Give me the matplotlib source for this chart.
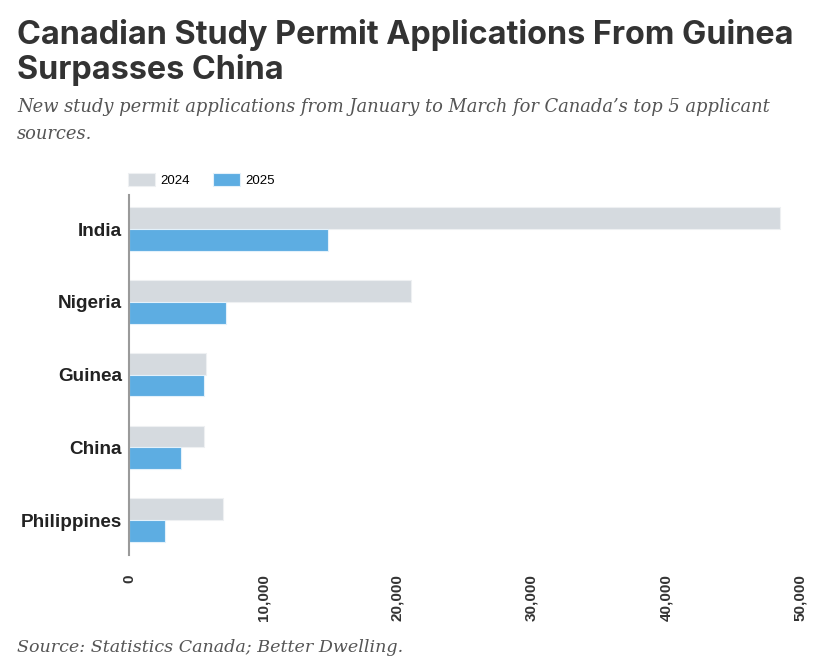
import matplotlib.pyplot as plt
import numpy as np

countries = ['India', 'Nigeria', 'Guinea', 'China', 'Philippines']
apps_2024 = [48500, 21050, 5750, 5600, 7000]
apps_2025 = [14850, 7200, 5600, 3850, 2700]
xticks = [0, 10000, 20000, 30000, 40000, 50000]

col_2024 = '#d5dadf'
col_2025 = '#5dade2'

fig = plt.figure(figsize=(8.27, 6.67), dpi=100)
ax = fig.add_axes([129 / 827, 1 - 555 / 667, (800 - 129) / 827, 360 / 667])

y = np.arange(len(countries))
h = 0.3
ax.barh(y - h / 2, apps_2024, height=h, color=col_2024, edgecolor='#eef0f2', linewidth=0.8, label='2024')
ax.barh(y + h / 2, apps_2025, height=h, color=col_2025, edgecolor='#e3f1fb', linewidth=0.8, label='2025')

ax.set_xlim(0, 50000)
ax.set_ylim(4.48, -0.47)
ax.set_yticks(y)
ax.set_yticklabels(countries, fontsize=13.6, fontweight='bold', color='#222222', family='Liberation Sans')
ax.set_xticks(xticks)
ax.set_xticklabels([f'{v:,}' for v in xticks], rotation=90, fontsize=11, fontweight='bold',
                   color='#333333', family='Liberation Sans')
ax.tick_params(axis='x', length=0, pad=14)
ax.tick_params(axis='y', length=0, pad=5)
for s in ['top', 'right', 'bottom']:
    ax.spines[s].set_visible(False)
ax.spines['left'].set_color('#9a9a9a')
ax.spines['left'].set_linewidth(1.5)

leg = ax.legend(loc='center left', bbox_to_anchor=(121 / 827, 1 - 180 / 667), bbox_transform=fig.transFigure,
                ncol=2, frameon=False, prop={'family': 'Liberation Sans', 'size': 9.5},
                handlelength=2.1, handleheight=1.1, handletextpad=0.4, columnspacing=1.7, borderpad=0)

title_lines = ['Canadian Study Permit Applications From Guinea', 'Surpasses China']
for i, line in enumerate(title_lines):
    fig.text(17 / 827, 1 - (44 + 35 * i) / 667, line, fontsize=23.3, fontweight='bold', family='Inter',
             color='#333333', va='baseline', ha='left')

sub_lines = ['New study permit applications from January to March for Canada\u2019s top 5 applicant', 'sources.']
for i, line in enumerate(sub_lines):
    fig.text(17 / 827, 1 - (112 + 27 * i) / 667, line, fontsize=12.9, style='italic', family='DejaVu Serif',
             color='#555555', va='baseline', ha='left')

fig.text(17 / 827, 1 - 652 / 667, 'Source: Statistics Canada; Better Dwelling.',
         fontsize=12.6, style='italic', family='DejaVu Serif', color='#555555', va='baseline', ha='left')

fig.savefig('out.png', dpi=100)
